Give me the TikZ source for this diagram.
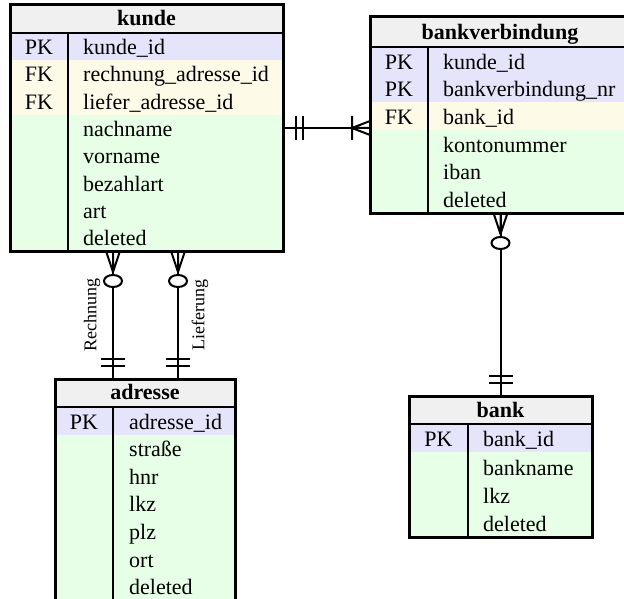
\documentclass[tikz,border=0pt]{standalone}
\usepackage{fontspec}
\setmainfont{Liberation Serif}
\usetikzlibrary{positioning,calc}
\definecolor{headCol}{RGB}{240,240,240}
\definecolor{pkCol}{RGB}{228,228,250}
\definecolor{fkCol}{RGB}{254,250,232}
\definecolor{attCol}{RGB}{230,255,230}
\tikzset{
  tabframe/.style={draw,line width=3pt,inner sep=0pt,outer sep=0pt},
  sep/.style={line width=2pt},
  head/.style={font=\fontsize{22}{26}\selectfont\bfseries,anchor=base,inner sep=0pt},
  key/.style={font=\fontsize{22}{26}\selectfont,anchor=base,inner sep=0pt},
  attr/.style={key,anchor=base west},
  rel/.style={line width=2pt},
  lbl/.style={font=\fontsize{18}{22}\selectfont,rotate=90},
  zeroMany/.pic={
    \draw[rel] (-7,0) -- (0,21) -- (7,0) (0,0) -- (0,21);
    \draw[rel,fill=white] (0,30) ellipse [x radius=9,y radius=6];
  },
  oneMany/.pic={
    \draw[rel] (-7,0) -- (0,18) -- (7,0) (0,0) -- (0,18) (-12,18) -- (12,18);
  },
  exactOne/.pic={
    \draw[rel] (-12,13) -- (12,13) (-12,20) -- (12,20);
  },
}

\begin{document}
\begin{tikzpicture}[x=1pt,y=-1pt]
  \useasboundingbox (0,0) rectangle (624,599);
  % --- kunde ---
  \fill[headCol] (10,5) rectangle (283,33);
  \fill[pkCol] (10,33) rectangle (283,60.25);
  \fill[fkCol] (10,60.25) rectangle (283,114.75);
  \fill[attCol] (10,114.75) rectangle (283,251);
  \node[head] (kundeHd) at (146.5,26) {kunde};
  \foreach \k [count=\i from 0] in {PK,FK,FK}
    \node[key] (kundeK\i) at (39,54.75+27.25*\i) {\k};
  \foreach \a [count=\i from 0] in {kunde\_id,rechnung\_adresse\_id,liefer\_adresse\_id,nachname,vorname,bezahlart,art,deleted}
    \node[attr] (kundeA\i) at (83,54.75+27.25*\i) {\a};
  \draw[sep] (10,33) -- (283,33) (68,33) -- (68,251);
  \node[tabframe,minimum width=273pt,minimum height=246pt] (kunde) at (146.5,128) {};

  % --- bankverbindung ---
  \fill[headCol] (370,17) rectangle (630,47);
  \fill[pkCol] (370,47) rectangle (630,102.3);
  \fill[fkCol] (370,102.3) rectangle (630,130);
  \fill[attCol] (370,130) rectangle (630,213);
  \node[head] (bvHd) at (500,40) {bankverbindung};
  \foreach \k [count=\i from 0] in {PK,PK,FK}
    \node[key] (bvK\i) at (399,69.2+27.67*\i) {\k};
  \foreach \a [count=\i from 0] in {kunde\_id,bankverbindung\_nr,bank\_id,kontonummer,iban,deleted}
    \node[attr] (bvA\i) at (443,69.2+27.67*\i) {\a};
  \draw[sep] (370,47) -- (630,47) (428,47) -- (428,213);
  \node[tabframe,minimum width=260pt,minimum height=196pt] (bankverbindung) at (500,115) {};

  % --- adresse ---
  \fill[headCol] (55,379) rectangle (235,407);
  \fill[pkCol] (55,407) rectangle (235,434.6);
  \fill[attCol] (55,434.6) rectangle (235,603);
  \node[head] (adrHd) at (145,399.5) {adresse};
  \node[key] (adrK0) at (84,429.1) {PK};
  \foreach \a [count=\i from 0] in {adresse\_id,straße,hnr,lkz,plz,ort,deleted}
    \node[attr] (adrA\i) at (129,429.1+27.6*\i) {\a};
  \draw[sep] (55,407) -- (235,407) (113,407) -- (113,603);
  \node[tabframe,minimum width=180pt,minimum height=224pt] (adresse) at (145,491) {};

  % --- bank ---
  \fill[headCol] (409,396) rectangle (592,424);
  \fill[pkCol] (409,424) rectangle (592,452.25);
  \fill[attCol] (409,452.25) rectangle (592,537);
  \node[head] (bankHd) at (500.5,417) {bank};
  \node[key] (bankK0) at (438.5,446.75) {PK};
  \foreach \a [count=\i from 0] in {bank\_id,bankname,lkz,deleted}
    \node[attr] (bankA\i) at (483,446.75+28.25*\i) {\a};
  \draw[sep] (409,424) -- (592,424) (468,424) -- (468,537);
  \node[tabframe,minimum width=183pt,minimum height=141pt] (bank) at (500.5,466.5) {};

  % --- relations ---
  \draw[rel] (kunde.east) -- (bankverbindung.west |- kunde.east);
  \pic[rotate=90] at (kunde.east) {exactOne};
  \pic[rotate=-90] at (bankverbindung.west |- kunde.east) {oneMany};

  \coordinate (rechTop) at ([xshift=-33.5pt]kunde.south);
  \coordinate (liefTop) at ([xshift=31.5pt]kunde.south);
  \coordinate (rechBot) at (adresse.north -| rechTop);
  \coordinate (liefBot) at (adresse.north -| liefTop);
  \draw[rel] (rechTop) -- (rechBot);
  \draw[rel] (liefTop) -- (liefBot);
  \pic at (rechTop) {zeroMany};
  \pic at (liefTop) {zeroMany};
  \pic[rotate=180] at (rechBot) {exactOne};
  \pic[rotate=180] at (liefBot) {exactOne};
  \node[lbl] (rechLbl) at ($(rechTop)!0.5!(rechBot)+(-21,0)$) {Rechnung};
  \node[lbl] (liefLbl) at ($(liefTop)!0.5!(liefBot)+(22,0)$) {Lieferung};

  \coordinate (bvBot) at (bankverbindung.south -| bank.north);
  \draw[rel] (bvBot) -- (bank.north);
  \pic at (bvBot) {zeroMany};
  \pic[rotate=180] at (bank.north) {exactOne};
\end{tikzpicture}
\end{document}
